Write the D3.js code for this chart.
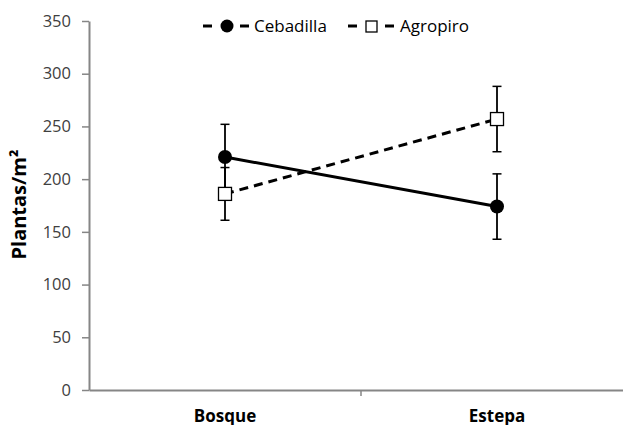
<!DOCTYPE html>
<html>
<head>
<meta charset="utf-8">
<script src="https://cdn.jsdelivr.net/npm/d3@7"></script>
<style>
  html, body { margin: 0; padding: 0; background: #fff; }
  svg { display: block; }
  text { font-family: "Open Sans", "Liberation Sans", sans-serif; }
</style>
</head>
<body>
<svg id="chart" width="623" height="425"></svg>
<script>
// Sites on the x axis
const sites = ["Bosque", "Estepa"];
// Mean density (plants per m²) and error (±) per species
const cebadillaMean = [221, 174];
const cebadillaErr = [31, 31];
const agropiroMean = [186, 257];
const agropiroErr = [25, 31];
// Y axis ticks
const yTicks = [0, 50, 100, 150, 200, 250, 300, 350];

const series = [
  { name: "Cebadilla", mean: cebadillaMean, err: cebadillaErr, marker: "circle", dash: null },
  { name: "Agropiro", mean: agropiroMean, err: agropiroErr, marker: "square", dash: "9,6" }
];

const svg = d3.select("#chart");
const plotLeft = 89, plotTop = 21, plotBottom = 390, plotRight = 633;

const x = d3.scaleBand().domain(sites).range([plotLeft, plotRight]).paddingInner(0).paddingOuter(0);
const y = d3.scaleLinear().domain([0, 350]).range([plotBottom, plotTop]);
const cx = d => x(d) + x.bandwidth() / 2;

// Y axis
const yAxis = svg.append("g").attr("transform", `translate(${plotLeft},0)`)
  .call(d3.axisLeft(y).tickValues(yTicks).tickSize(7).tickSizeOuter(0).tickPadding(11));
yAxis.select(".domain").attr("stroke", "#868686").attr("stroke-width", 2);
yAxis.selectAll(".tick line").attr("stroke", "#868686").attr("stroke-width", 1.5);
yAxis.selectAll(".tick text").attr("fill", "#404040").style("font-size", "16.5px")
  .style("font-family", "'Open Sans', sans-serif");

// X axis
const xAxis = svg.append("g").attr("transform", `translate(0,${plotBottom})`)
  .call(d3.axisBottom(x).tickSize(0).tickPadding(20).tickSizeOuter(0));
xAxis.select(".domain").attr("stroke", "#868686").attr("stroke-width", 2);
xAxis.selectAll(".tick text").attr("fill", "#000").style("font-size", "17px")
  .style("font-weight", "bold").style("font-family", "'Open Sans', sans-serif");
// boundary ticks between categories
xAxis.selectAll(".sep").data(sites.slice(1)).enter().append("line")
  .attr("x1", d => x(d)).attr("x2", d => x(d)).attr("y1", 0).attr("y2", 6)
  .attr("stroke", "#868686").attr("stroke-width", 1.5);

// Y axis title
svg.append("text")
  .attr("transform", `translate(26,${(plotTop + plotBottom) / 2 - 1}) rotate(-90)`)
  .attr("text-anchor", "middle")
  .style("font-size", "20px").style("font-weight", "bold")
  .text("Plantas/m²");

// Lines
const line = d3.line().x((d, i) => cx(sites[i])).y(d => y(d));
series.forEach(s => {
  svg.append("path").datum(s.mean)
    .attr("d", line).attr("fill", "none").attr("stroke", "#000")
    .attr("stroke-width", 3)
    .attr("stroke-dasharray", s.dash);
});

// Error bars
series.forEach(s => {
  const g = svg.append("g");
  s.mean.forEach((m, i) => {
    const px = cx(sites[i]);
    g.append("line").attr("x1", px).attr("x2", px)
      .attr("y1", y(m - s.err[i])).attr("y2", y(m + s.err[i]))
      .attr("stroke", "#000").attr("stroke-width", 1.8);
    [m - s.err[i], m + s.err[i]].forEach(v => {
      g.append("line").attr("x1", px - 4.5).attr("x2", px + 4.5)
        .attr("y1", y(v)).attr("y2", y(v))
        .attr("stroke", "#000").attr("stroke-width", 1.5);
    });
  });
});

// Markers
series.forEach(s => {
  s.mean.forEach((m, i) => {
    const px = cx(sites[i]);
    if (s.marker === "circle") {
      svg.append("circle").attr("cx", px).attr("cy", y(m)).attr("r", 7).attr("fill", "#000");
    } else {
      svg.append("rect").attr("x", px - 6.5).attr("y", y(m) - 6.5)
        .attr("width", 13).attr("height", 13)
        .attr("fill", "#fff").attr("stroke", "#000").attr("stroke-width", 1.3);
    }
  });
});

// Legend
const legendItems = [
  { s: series[0], x0: 203, tx: 254 },
  { s: series[1], x0: 348, tx: 400 }
];
const ly = 26;
legendItems.forEach(({ s, x0, tx }) => {
  const g = svg.append("g");
  g.append("line").attr("x1", x0).attr("x2", x0 + 9).attr("y1", ly).attr("y2", ly)
    .attr("stroke", "#000").attr("stroke-width", 3);
  g.append("line").attr("x1", x0 + 37).attr("x2", x0 + 46).attr("y1", ly).attr("y2", ly)
    .attr("stroke", "#000").attr("stroke-width", 3);
  const mx = x0 + 23;
  if (s.marker === "circle") {
    g.append("circle").attr("cx", mx + 1).attr("cy", ly).attr("r", 6.5).attr("fill", "#000");
  } else {
    g.append("rect").attr("x", mx - 5).attr("y", ly - 5).attr("width", 11).attr("height", 11)
      .attr("fill", "#fff").attr("stroke", "#000").attr("stroke-width", 1.3);
  }
  g.append("text").attr("x", tx).attr("y", ly + 6)
    .attr("fill", "#000").style("font-size", "17px").text(s.name);
});
</script>
</body>
</html>
